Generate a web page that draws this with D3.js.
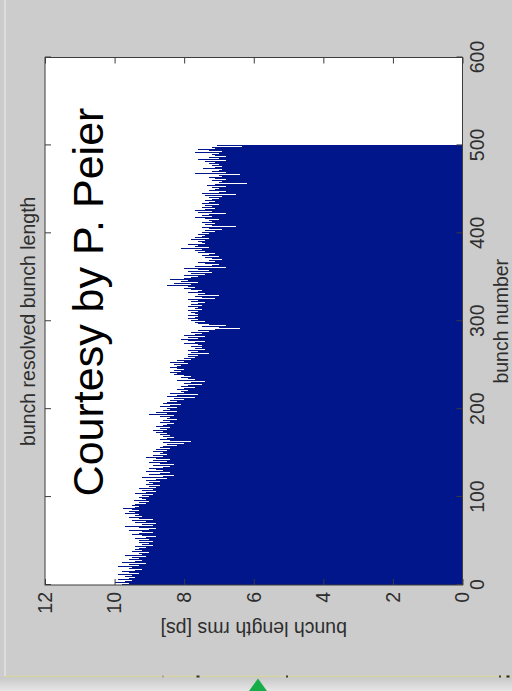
<!DOCTYPE html>
<html>
<head>
<meta charset="utf-8">
<script src="https://cdn.jsdelivr.net/npm/d3@7"></script>
<style>
  html, body { margin: 0; padding: 0; background: #cccccc; }
  svg { display: block; font-family: "Liberation Sans", Arial, Helvetica, sans-serif; }
</style>
</head>
<body>
<svg id="chart" width="512" height="691"></svg>
<script>
// Bunch-resolved rms bunch length [ps], bunches 1..500
const bunchLength = [
  9.8, 9.6, 10.0, 9.7, 9.5, 9.9, 9.6, 9.8, 9.4, 9.7,
  9.5, 9.9, 9.3, 9.6, 9.8, 9.4, 9.7, 9.2, 9.6, 9.5,
  9.9, 9.3, 9.6, 9.1, 9.5, 9.8, 9.4, 9.2, 9.6, 9.3,
  9.5, 9.1, 9.4, 9.7, 9.2, 9.3, 9.0, 9.5, 9.2, 9.4,
  9.0, 9.3, 9.1, 9.4, 8.9, 9.2, 9.0, 9.3, 8.9, 9.1,
  9.3, 9.0, 9.4, 9.1, 8.8, 9.2, 9.5, 9.0, 9.3, 8.9,
  9.2, 9.6, 9.0, 8.8, 9.3, 9.1, 9.7, 8.9, 9.2, 8.8,
  9.4, 9.1, 9.5, 9.2, 8.9, 9.3, 9.6, 9.2, 9.4, 9.3,
  9.7, 9.4, 9.3, 9.6, 9.3, 9.5, 9.75, 9.4, 9.3, 9.5,
  9.2, 9.4, 9.1, 9.3, 9.0, 9.45, 9.1, 9.2, 9.0, 9.3,
  9.0, 9.2, 8.9, 9.4, 9.1, 8.8, 9.2, 9.0, 8.9, 9.3,
  8.8, 9.0, 8.7, 9.1, 8.9, 8.8, 9.0, 8.7, 9.1, 8.8,
  8.5, 9.2, 8.6, 8.9, 8.3, 9.0, 8.7, 8.4, 9.1, 8.6,
  8.8, 8.5, 9.0, 8.6, 8.4, 8.9, 8.3, 8.7, 9.0, 8.5,
  8.6, 8.9, 8.4, 8.8, 9.1, 8.6, 8.9, 8.5, 9.0, 8.7,
  8.6, 8.9, 8.5, 8.8, 8.4, 8.7, 8.3, 8.6, 8.2, 8.5,
  8.0, 8.6, 7.8, 8.4, 8.7, 8.2, 8.5, 8.3, 8.6, 8.4,
  8.7, 8.5, 8.8, 8.4, 8.6, 8.9, 8.5, 8.7, 8.4, 8.8,
  8.6, 8.9, 8.5, 8.3, 8.7, 8.4, 8.6, 8.2, 8.5, 8.8,
  8.4, 8.7, 8.3, 9.0, 8.5, 8.8, 8.2, 8.6, 8.9, 8.4,
  8.5, 8.2, 8.7, 8.4, 8.1, 8.6, 8.3, 8.5, 8.2, 8.4,
  8.0, 8.3, 7.7, 8.5, 7.9, 8.2, 7.6, 8.4, 8.0, 8.1,
  7.9, 8.2, 7.8, 8.0, 7.7, 8.1, 7.9, 7.5, 8.0, 7.8,
  7.4, 8.0, 8.2, 7.7, 7.9, 8.1, 7.8, 8.0, 8.3, 8.1,
  8.2, 8.4, 8.1, 8.3, 8.0, 8.2, 8.4, 7.9, 8.2, 8.1,
  8.3, 7.9, 8.4, 8.0, 8.2, 7.8, 8.1, 8.0, 7.7, 7.9,
  7.6, 7.9, 7.3, 7.8, 7.0, 7.6, 7.9, 7.4, 7.7, 7.5,
  7.8, 7.5, 7.9, 7.6, 8.0, 7.7, 7.4, 7.9, 8.1, 7.6,
  8.3, 7.9, 7.4, 8.0, 7.7, 7.5, 7.8, 7.3, 7.6, 7.4,
  7.1, 6.4, 7.0, 7.5, 6.8, 7.3, 7.6, 7.2, 7.7, 7.4,
  7.8, 7.6, 7.9, 7.7, 7.6, 7.8, 7.9, 7.6, 7.7, 7.8,
  7.6, 7.9, 7.5, 7.8, 7.7, 7.6, 7.9, 7.5, 7.8, 7.6,
  7.4, 7.8, 7.2, 7.6, 7.9, 7.1, 7.5, 7.7, 7.0, 7.6,
  7.8, 7.4, 7.9, 7.6, 7.5, 7.8, 8.0, 7.7, 8.2, 7.9,
  8.5, 7.8, 8.3, 7.6, 8.1, 7.9, 8.4, 7.7, 8.0, 7.8,
  7.6, 8.0, 7.4, 7.8, 7.2, 7.7, 7.9, 7.3, 7.6, 8.0,
  6.8, 7.7, 7.2, 7.5, 7.0, 7.4, 7.6, 7.1, 7.3, 6.9,
  7.2, 6.7, 7.4, 7.0, 7.5, 7.3, 7.1, 7.6, 7.4, 7.7,
  7.9, 7.5, 8.1, 7.3, 7.7, 7.6, 7.9, 7.4, 7.8, 7.5,
  7.6, 7.4, 7.8, 7.3, 7.7, 7.5, 7.8, 7.4, 7.6, 7.3,
  7.5, 7.1, 7.4, 6.9, 7.3, 7.0, 7.5, 6.5, 7.2, 7.4,
  7.1, 7.5, 7.2, 7.6, 7.3, 7.0, 7.4, 7.7, 7.2, 7.5,
  7.3, 7.9, 6.8, 7.6, 7.2, 7.7, 7.4, 7.1, 7.5, 7.3,
  7.2, 7.4, 7.0, 7.5, 7.3, 7.1, 7.4, 7.2, 7.5, 7.0,
  7.3, 6.9, 7.4, 6.5, 7.5, 7.0, 7.2, 6.8, 7.3, 7.1,
  7.0, 7.2, 6.8, 7.35, 6.6, 7.1, 6.2, 7.0, 6.9, 7.2,
  6.8, 7.1, 6.6, 7.3, 6.9, 7.0, 6.4, 7.7, 6.8, 7.2,
  7.0, 7.3, 6.9, 7.45, 7.1, 6.9, 7.2, 7.0, 7.3, 6.95,
  7.1, 7.4, 6.8, 7.6, 7.0, 7.3, 6.8, 7.5, 7.1, 7.2,
  7.0, 7.7, 6.9, 7.3, 7.6, 7.1, 6.8, 7.2, 6.35, 7.05
];
const bunchNumber = bunchLength.map((_, i) => i + 1);

const bunchTicks = [0, 100, 200, 300, 400, 500, 600];
const lengthTicks = [0, 2, 4, 6, 8, 10, 12];

const titleText = "bunch resolved bunch length";
const xLabelText = "bunch number";
const yLabelText = "bunch length rms [ps]";
const noteText = "Courtesy by P. Peier";

const svg = d3.select("#chart");
const FONT = 19.5;
const INK = "#2e2e2e";
const BAR = "#01168b";

// window background
svg.append("rect").attr("width", 512).attr("height", 691).attr("fill", "#cccccc");
svg.append("line").attr("x1", 5).attr("x2", 5).attr("y1", 0).attr("y2", 677)
  .attr("stroke", "#e3e3e3").attr("stroke-width", 1.5);

// plot placed sideways: bunch axis runs upward, length axis runs leftward
const W = 527.5, H = 417.5;
const g = svg.append("g").attr("transform", "translate(45,585) rotate(-90)");

const x = d3.scaleLinear().domain([0, 600]).range([0, W]);
const y = d3.scaleLinear().domain([0, 12]).range([H, 0]);

g.append("rect").attr("width", W).attr("height", H).attr("fill", "#ffffff");

const bw = x(1) - x(0);
g.append("g").attr("shape-rendering", "crispEdges")
  .selectAll("rect").data(bunchNumber).join("rect")
  .attr("x", d => x(d - 0.5))
  .attr("width", bw)
  .attr("y", d => y(bunchLength[d - 1]))
  .attr("height", d => H - y(bunchLength[d - 1]))
  .attr("fill", BAR);

function styleAxis(sel) {
  sel.select(".domain").remove();
  sel.selectAll(".tick line").attr("stroke", "#3c3c3c");
  sel.selectAll("text").attr("fill", INK).attr("font-size", FONT)
    .attr("font-family", "\"Liberation Sans\", Arial, sans-serif");
}

// ticks on all four sides, pointing inward
g.append("g").attr("transform", `translate(0,${H})`)
  .call(d3.axisBottom(x).tickValues(bunchTicks).tickSize(-6).tickPadding(7.7))
  .call(styleAxis);
g.append("g")
  .call(d3.axisTop(x).tickValues(bunchTicks).tickSize(-6).tickFormat(""))
  .call(styleAxis);
g.append("g")
  .call(d3.axisLeft(y).tickValues(lengthTicks).tickSize(-6).tickPadding(7))
  .call(styleAxis);
g.append("g").attr("transform", `translate(${W},0)`)
  .call(d3.axisRight(y).tickValues(lengthTicks).tickSize(-6).tickFormat(""))
  .call(styleAxis);

g.append("rect").attr("width", W).attr("height", H)
  .attr("fill", "none").attr("stroke", "#3c3c3c").attr("stroke-width", 1);

// labels
g.append("text").attr("x", W / 2).attr("y", -10)
  .attr("text-anchor", "middle").attr("font-size", FONT).attr("fill", INK)
  .text(titleText);
g.append("text").attr("x", W / 2).attr("y", H + 45.5)
  .attr("text-anchor", "middle").attr("font-size", FONT).attr("fill", INK)
  .text(xLabelText);
g.append("text").attr("transform", `translate(-37,${H / 2}) rotate(-90)`)
  .attr("text-anchor", "middle").attr("font-size", FONT).attr("fill", INK)
  .text(yLabelText);

// credit written across the plot
g.append("text").attr("x", 283).attr("y", 58)
  .attr("text-anchor", "middle").attr("font-size", 43).attr("fill", "#000000")
  .text(noteText);

// lower window edge
const grad = svg.append("defs").append("linearGradient").attr("id", "shade")
  .attr("x1", 0).attr("x2", 0).attr("y1", 0).attr("y2", 1);
grad.append("stop").attr("offset", 0).attr("stop-color", "#c8c8c8");
grad.append("stop").attr("offset", 1).attr("stop-color", "#e6e6e6");
svg.append("rect").attr("x", 0).attr("y", 677).attr("width", 512).attr("height", 14)
  .attr("fill", "url(#shade)");
svg.append("line").attr("x1", 4).attr("x2", 512).attr("y1", 676.5).attr("y2", 676.5)
  .attr("stroke", "#d6d3a6").attr("stroke-width", 1.5);
[[163, "#8a6a9a", 1], [198, "#333", 3], [287, "#111", 1.5], [500, "#111", 1.5], [508, "#222", 3]]
  .forEach(([cx, c, w]) => svg.append("rect").attr("x", cx - w / 2).attr("y", 675.5)
    .attr("width", w).attr("height", 2).attr("fill", c));
svg.append("path").attr("d", "M258,678.5 L249,691 L267,691 Z").attr("fill", "#19ad49");
</script>
</body>
</html>
